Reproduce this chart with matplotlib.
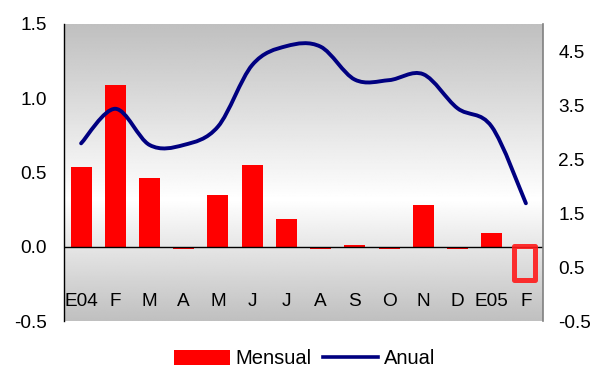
import numpy as np
import matplotlib
matplotlib.use("Agg")
import matplotlib.pyplot as plt
from matplotlib.path import Path
from matplotlib.patches import PathPatch, Rectangle, Patch
from matplotlib.lines import Line2D

plt.rcParams["font.family"] = ["Liberation Sans", "DejaVu Sans"]

# Monthly series, Jan 2004 - Feb 2005
months = ["E04", "F", "M", "A", "M", "J", "J", "A", "S", "O", "N", "D", "E05", "F"]
mensual = [0.54, 1.09, 0.46, -0.015, 0.35, 0.55, 0.19, -0.015, 0.01, -0.015, 0.28, -0.015, 0.09, np.nan]
anual = [2.79, 3.43, 2.76, 2.76, 3.10, 4.24, 4.59, 4.58, 3.97, 3.96, 4.07, 3.44, 3.10, 1.68]

left_ticks = [-0.5, 0.0, 0.5, 1.0, 1.5]
right_ticks = [-0.5, 0.5, 1.5, 2.5, 3.5, 4.5]
highlight = len(months) - 1  # latest month, still without a monthly figure

FS = 13.7
W, H = 597, 368
fig = plt.figure(figsize=(W / 100, H / 100), dpi=100)
ax = fig.add_axes([64 / W, 1 - 321 / H, 479 / W, 297 / H])

# plot-area background: grey at the edges, white a little below the middle
ys = np.linspace(0, 1, 300)
peak = 0.41
shade = np.where(ys < peak, 0.75 + 0.25 * ys / peak, 1.0 - 0.25 * (ys - peak) / (1 - peak))
grad = np.repeat(shade[:, None], 2, axis=1)
ax.imshow(grad, extent=[0, 1, 0, 1], transform=ax.transAxes, origin="lower",
          cmap="gray", vmin=0, vmax=1, aspect="auto", zorder=0, interpolation="bilinear")

x = np.arange(len(months))
ax.bar(x, mensual, width=0.614, color="#ff0000", zorder=2)
ax.axhline(0, color="black", lw=1.0, zorder=3)

ax.set_xlim(-0.5, len(months) - 0.5)
ax.set_ylim(-0.5, 1.5)
ax.set_yticks(left_ticks)
ax.set_yticklabels([f"{v:.1f}" for v in left_ticks])
ax.set_xticks(x)
ax.set_xticklabels(months)
ax.tick_params(axis="y", length=0, pad=12.5, labelsize=FS)
ax.tick_params(axis="x", length=0, pad=-20, labelsize=FS)
for s in ["top", "bottom", "right"]:
    ax.spines[s].set_visible(False)
ax.spines["left"].set_color("black")
ax.spines["left"].set_linewidth(1.0)

# highlight box around the month with no monthly figure yet
ax.add_patch(Rectangle((highlight - 0.333, -0.226), 0.613, 0.229, fill=False,
                       edgecolor="#ff1a1a", lw=3.6, joinstyle="round", alpha=0.9, zorder=4))

# annual rate on the secondary axis, drawn as a smoothed curve
ax2 = ax.twinx()
ax2.set_ylim(-0.5, 5.0)
ax2.set_yticks(right_ticks)
ax2.set_yticklabels([f"{v:.1f}" for v in right_ticks])
ax2.tick_params(axis="y", length=0, pad=11, labelsize=FS)
for s in ["top", "bottom", "left"]:
    ax2.spines[s].set_visible(False)
ax2.spines["right"].set_color("#808080")
ax2.spines["right"].set_linewidth(1.2)
ax2.patch.set_visible(False)

pts = np.column_stack([x, anual]).astype(float)
verts = [pts[0]]
codes = [Path.MOVETO]
n = len(pts)
for i in range(n - 1):
    p0 = pts[i - 1] if i > 0 else pts[i]
    p1, p2 = pts[i], pts[i + 1]
    p3 = pts[i + 2] if i + 2 < n else pts[i + 1]
    c1 = p1 + (p2 - p0) / 6.0
    c2 = p2 - (p3 - p1) / 6.0
    verts += [c1, c2, p2]
    codes += [Path.CURVE4] * 3
ax2.add_patch(PathPatch(Path(verts, codes), fill=False, edgecolor="#000080",
                        lw=2.8, capstyle="round", joinstyle="round", zorder=5))

handles = [Patch(facecolor="#ff0000", edgecolor="none"),
           Line2D([], [], color="#000080", lw=2.6)]
fig.legend(handles, ["Mensual", "Anual"], loc="center", ncol=2, frameon=False,
           bbox_to_anchor=(305 / W, 1 - 359 / H), fontsize=14.5, handlelength=2.75,
           handletextpad=0.3, columnspacing=0.55)

fig.savefig("out.png", dpi=100)
